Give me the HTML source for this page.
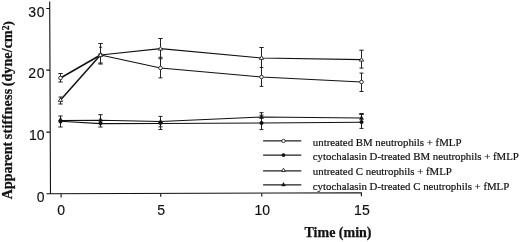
<!DOCTYPE html>
<html><head><meta charset="utf-8"><title>Apparent stiffness vs time</title>
<style>
html,body{margin:0;padding:0;background:#fff;}
svg{display:block}
.ax{font-family:"Liberation Sans",sans-serif;font-size:14px;fill:#111;stroke:#111;stroke-width:0.15}
.lg{font-family:"Liberation Serif",serif;font-size:10.83px;fill:#111;stroke:#111;stroke-width:0.2}
.ti{font-family:"Liberation Serif",serif;font-weight:bold;font-size:14px;fill:#111;stroke:#111;stroke-width:0.25}
.l{stroke:#111;stroke-width:1.4;fill:none}
.e{stroke:#222;stroke-width:1;fill:none}
.a{stroke:#111;stroke-width:1.1;fill:none}
</style></head>
<body>
<svg width="520" height="242" viewBox="0 0 520 242">
<rect width="520" height="242" fill="#fff"/>
<!-- axes -->
<path class="a" d="M49.7 1.5L50.5 194.2 M46.5 193.8L361.9 192.8 M46.3 8.5H50 M46.3 70.1H50 M46.3 132.1H50 M61.1 193.6V197.4 M160.7 193.4V196.8 M261.8 193V196.4 M361.4 192.8V196.2"/>
<!-- error bars upper -->
<g class="e">
<path d="M60.5 73.5V82M58.3 73.5h4.4M58.3 82h4.4"/>
<path d="M60.5 97V104M58.5 97h4M58.3 104h4.4"/>
<path d="M100.5 43.5V64.2M98.3 43.5h4.4M99 47.2h3M98.3 63h4.4M98.3 64h4.4"/>
<path d="M160.5 38.5V77.9M158.3 38.5h4.4M158.5 57.3h4M158.5 58.8h4M158.5 77.9h4"/>
<path d="M261.5 47.5V86.4M259.3 47.5h4.4M259.7 67.5h3.6M259.7 86.4h3.6"/>
<path d="M361.5 50.2V68.1M359.3 50.2h4.4M359.5 68.1h4M361.5 73.1V91.5M359.5 73.1h4M359.5 91.5h4"/>
</g>
<!-- error bars lower -->
<g class="e">
<path d="M60.5 116V127M58.3 116h4.4M58.3 127h4.4"/>
<path d="M100.5 114.7V127M98.3 114.7h4.4M98.3 127h4.4"/>
<path d="M160.5 116.4V129.5M158.5 116.4h4M158.5 126.8h4M158.5 129.5h4"/>
<path d="M261.5 112.7V129.6M259.5 112.7h4M259.5 115.2h4M259.5 129.6h4"/>
<path d="M361.5 113.5V128.4M359.3 113.5h4.4M359.3 114.5h4.4M359.5 128.4h4"/>
</g>
<!-- lines -->
<polyline class="l" style="stroke-width:1.5" points="60.5,78 100.5,55"/><polyline class="l" style="stroke-width:1.25" points="100.5,55 160.5,68 261.5,77 361.5,82"/>
<polyline class="l" style="stroke-width:1.5" points="60.5,100 100.5,55"/><polyline class="l" style="stroke-width:1.25" points="100.5,55 160.5,48.7 261.5,58 361.5,59.7"/>
<polyline class="l" style="stroke-width:1.05" points="60.5,121.2 100.5,123.6 160.5,123.4 261.5,123 361.5,122.2"/>
<polyline class="l" style="stroke-width:1.05" points="60.5,120.4 100.5,120.2 160.5,121.5 261.5,117.1 361.5,118"/>
<!-- markers -->
<g fill="#fff" stroke="#222" stroke-width="0.9">
<circle cx="60.5" cy="78" r="1.8"/><circle cx="100.5" cy="55" r="2"/><circle cx="160.5" cy="68" r="1.8"/><circle cx="261.5" cy="77" r="1.8"/><circle cx="361.5" cy="82" r="1.8"/>
<path d="M60.5 97.8l2.2 3.6h-4.4z"/><path d="M100.5 52.8l2.2 3.6h-4.4z"/><path d="M160.5 46.5l2.2 3.6h-4.4z"/><path d="M261.5 55.8l2.2 3.6h-4.4z"/><path d="M361.5 57.5l2.2 3.6h-4.4z"/>
</g>
<g fill="#111" stroke="#111" stroke-width="0.5">
<circle cx="60.5" cy="121.5" r="1.8"/><circle cx="100.5" cy="123.3" r="1.8"/><circle cx="160.5" cy="123" r="1.8"/><circle cx="261.5" cy="123" r="1.8"/><circle cx="361.5" cy="122.1" r="1.8"/>
<path d="M60.5 117.3l2 3.6h-4z"/><path d="M100.5 117.6l2 3.6h-4z"/><path d="M160.5 119.3l2 3.6h-4z"/><path d="M261.5 114.9l2 3.6h-4z"/><path d="M361.5 115.8l2 3.6h-4z"/>
</g>
<!-- legend -->
<path d="M263.1 140.9H301.3M263.1 155.1H301.3M263.1 170.8H301.3M263.1 184.9H301.3" stroke="#222" stroke-width="1.2" fill="none"/>
<circle cx="283.5" cy="140.9" r="1.7" fill="#fff" stroke="#222" stroke-width="0.9"/>
<circle cx="283.5" cy="155.1" r="1.9" fill="#111"/>
<path d="M283.5 168.2l1.9 3.3h-3.8z" fill="#fff" stroke="#222" stroke-width="0.9"/>
<path d="M283.5 182.4l2 3.6h-4z" fill="#111" stroke="#111" stroke-width="0.4"/>
<text class="lg" x="312.8" y="146">untreated BM neutrophils + fMLP</text>
<text class="lg" x="312.8" y="160.3">cytochalasin D-treated BM neutrophils + fMLP</text>
<text class="lg" x="312.8" y="175.3">untreated C neutrophils + fMLP</text>
<text class="lg" x="312.8" y="189.5">cytochalasin D-treated C neutrophils + fMLP</text>
<!-- tick labels -->
<text class="ax" x="45.4" y="16.5" text-anchor="end" letter-spacing="0.8">30</text>
<text class="ax" x="45.4" y="77.8" text-anchor="end" letter-spacing="0.8">20</text>
<text class="ax" x="44.6" y="140" text-anchor="end">10</text>
<text class="ax" x="44.6" y="201.9" text-anchor="end">0</text>
<text class="ax" x="61.1" y="215.4" text-anchor="middle">0</text>
<text class="ax" x="161.1" y="215.1" text-anchor="middle">5</text>
<text class="ax" x="262.3" y="214.8" text-anchor="middle">10</text>
<text class="ax" x="361.9" y="214.5" text-anchor="middle">15</text>
<!-- titles -->
<text class="ti" x="304.5" y="237.1">Time (min)</text>
<g transform="translate(12.3 199.2) rotate(-90)"><text class="ti" x="0" y="0">Apparent</text><text class="ti" x="59.9" y="0" letter-spacing="0.3">stiffness</text><text class="ti" x="112.9" y="0" letter-spacing="0.1">(dyne/cm<tspan font-size="9.5" dy="-3.6">2</tspan><tspan dy="3.6" font-size="13">)</tspan></text></g>
</svg>
</body></html>
